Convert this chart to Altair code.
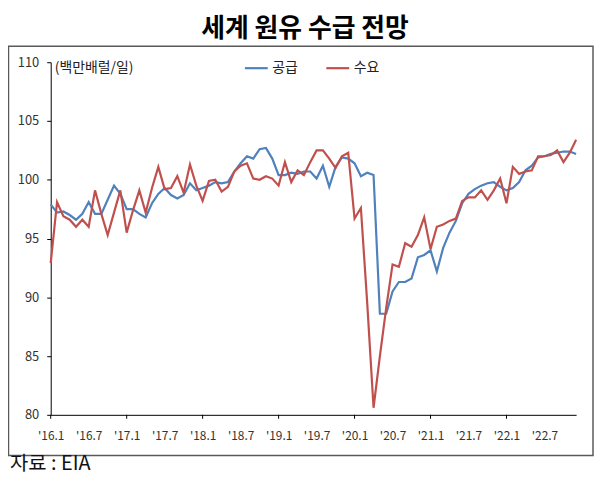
import json
import altair as alt
import pandas as pd

FONT = "Noto Sans CJK KR"

title_text = "세계 원유 수급 전망"
unit_text = "(백만배럴/일)"
source_text = "자료 : EIA"

series_names = ["공급", "수요"]
series_colors = ["#4F81BD", "#C0504D"]

# x tick labels (every 6 months, Jan 2016 .. Jul 2022)
tick_labels = ["'16.1", "'16.7", "'17.1", "'17.7", "'18.1", "'18.7", "'19.1",
               "'19.7", "'20.1", "'20.7", "'21.1", "'21.7", "'22.1", "'22.7"]

# monthly values, Jan 2016 .. Dec 2022 (million barrels/day)
supply = [
    97.9, 97.2, 97.3, 97.0, 96.6, 97.1, 98.1, 97.1, 97.1, 98.3, 99.5, 98.8,
    97.5, 97.5, 97.1, 96.8, 98.0, 98.8, 99.3, 98.7, 98.4, 98.7, 99.7, 99.1,
    99.3, 99.5, 99.8, 99.7, 99.8, 100.7, 101.4, 102.0, 101.8, 102.6, 102.7, 101.8,
    100.4, 100.4, 100.6, 100.5, 100.7, 100.7, 100.1, 101.2, 99.4, 101.1, 101.9, 101.8,
    101.4, 100.3, 100.6, 100.4, 88.6, 88.6, 90.5, 91.3, 91.3, 91.6, 93.4, 93.6,
    94.0, 92.2, 94.2, 95.5, 96.5, 98.0, 98.8, 99.2, 99.5, 99.7, 99.8, 99.4,
    99.1, 99.3, 99.8, 100.8, 101.2, 101.9, 102.0, 102.2, 102.3, 102.4, 102.4, 102.2,
]
demand = [
    92.9, 98.1, 96.9, 96.6, 96.0, 96.6, 96.0, 99.1, 97.1, 95.3, 97.2, 99.1,
    95.5, 97.4, 99.1, 97.2, 99.3, 101.1, 99.2, 99.3, 100.3, 98.9, 101.3, 99.5,
    98.2, 99.9, 100.0, 99.0, 99.4, 100.7, 101.2, 101.4, 100.1, 100.0, 100.3, 100.1,
    99.5, 101.5, 99.8, 100.8, 100.4, 101.5, 102.5, 102.5, 101.8, 101.0, 102.0, 102.3,
    96.7, 97.6, 89.5, 80.6, 85.0, 89.1, 92.8, 92.6, 94.6, 94.3, 95.3, 96.8,
    94.1, 96.0, 96.2, 96.5, 96.7, 98.2, 98.5, 98.5, 99.1, 98.3, 99.1, 100.1,
    98.0, 101.1, 100.5, 100.7, 100.8, 102.0, 102.0, 102.1, 102.5, 101.5, 102.3, 103.4,
]

y_ticks = [80, 85, 90, 95, 100, 105, 110]

n = len(supply)
df = pd.DataFrame({
    "i": list(range(n)) * 2,
    "v": supply + demand,
    "s": [series_names[0]] * n + [series_names[1]] * n,
})
tick_df = pd.DataFrame({"t": list(range(0, n, 12))})
one = pd.DataFrame({"a": [0]})

W, H = 529, 355

xscale = alt.Scale(domain=[0, n - 1], nice=False, zero=False)

label_expr = json.dumps(tick_labels) + "[datum.value / 6]"

lines = alt.Chart(df).mark_line(strokeWidth=2.2).encode(
    x=alt.X("i:Q", scale=xscale,
            axis=alt.Axis(values=list(range(0, n, 6)), labelExpr=label_expr,
                          ticks=False, tickSize=0, grid=False, title=None,
                          domainColor="#000000", domainWidth=1,
                          labelOverlap=False, labelFlush=False,
                          labelFont=FONT, labelFontSize=12, labelColor="#333333",
                          labelPadding=16, labelBaseline="top")),
    y=alt.Y("v:Q", scale=alt.Scale(domain=[80, 110], nice=False, zero=False),
            axis=alt.Axis(values=y_ticks, tickSize=4, tickColor="#000000",
                          domainColor="#000000", grid=False, title=None,
                          labelOverlap=False, labelFlush=False,
                          labelFont=FONT, labelFontSize=13, labelColor="#333333",
                          labelPadding=8)),
    color=alt.Color("s:N",
                    scale=alt.Scale(domain=series_names, range=series_colors),
                    legend=alt.Legend(orient="none", legendX=194, legendY=-7,
                                      direction="horizontal", title=None,
                                      symbolType="stroke", symbolSize=529,
                                      symbolStrokeWidth=2.2, labelFont=FONT,
                                      labelFontSize=14, labelColor="#222222",
                                      labelOffset=3, columnPadding=24,
                                      padding=0)),
    order="i:Q",
)

ticks = alt.Chart(tick_df).mark_rule(color="#000000", strokeWidth=1).encode(
    x=alt.X("t:Q", scale=xscale),
    y=alt.value(H),
    y2=alt.value(H + 4),
)

frame = alt.Chart(one).mark_rect(fill="transparent", stroke="#595959",
                                 strokeWidth=1.5).encode(
    x=alt.value(-42.5), x2=alt.value(546), y=alt.value(-16), y2=alt.value(396)
)

title = alt.Chart(one).mark_text(text=title_text, font=FONT, fontSize=26,
                                 fontWeight="bold", align="center",
                                 baseline="middle", color="#000000").encode(
    x=alt.value(256), y=alt.value(-33)
)

unit = alt.Chart(one).mark_text(text=unit_text, font=FONT, fontSize=14,
                                align="left", baseline="middle",
                                color="#222222").encode(
    x=alt.value(4), y=alt.value(6)
)

source = alt.Chart(one).mark_text(text=source_text, font=FONT, fontSize=20,
                                  align="left", baseline="middle",
                                  color="#111111").encode(
    x=alt.value(-41), y=alt.value(405)
)

chart = alt.layer(frame, ticks, lines, title, unit, source).properties(
    width=W, height=H,
    autosize=alt.AutoSizeParams(type="none"),
    padding={"left": 43, "top": 53, "right": 18, "bottom": 60},
).configure_view(stroke=None)

chart.save("out.html", embed_options={"renderer": "svg", "actions": False})
